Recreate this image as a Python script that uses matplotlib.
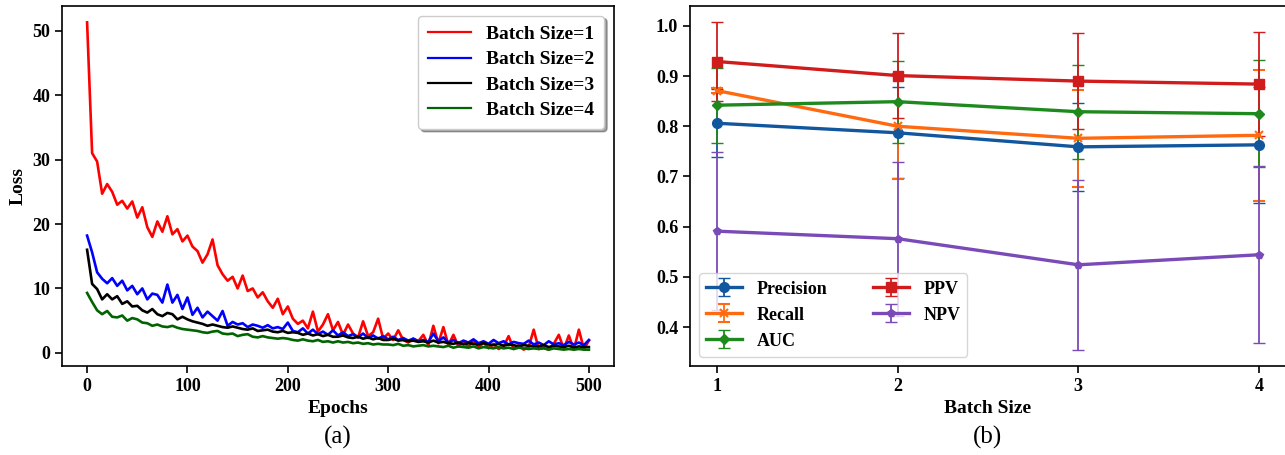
import matplotlib
matplotlib.use("Agg")
import matplotlib.pyplot as plt
import numpy as np

plt.rcParams['font.family'] = ['Liberation Serif', 'DejaVu Serif']
plt.rcParams['font.weight'] = 'bold'
plt.rcParams['axes.labelweight'] = 'bold'

# ---------------- (a) loss curves ----------------
epochs = list(range(0, 501, 5))

loss_bs1 = [51.3, 31.0, 29.7, 24.7, 26.2, 25.0, 23.0, 23.6, 22.4, 23.5,
            21.0, 22.6, 19.5, 18.0, 20.4, 18.8, 21.2, 18.4, 19.2, 17.3,
            18.2, 16.5, 15.8, 14.0, 15.3, 17.6, 13.6, 12.2, 11.2, 11.8,
            10.0, 12.0, 9.6, 10.0, 8.6, 9.4, 8.0, 7.0, 8.4, 6.0,
            7.2, 5.3, 4.5, 5.0, 3.8, 6.4, 3.3, 4.4, 6.0, 3.5,
            4.8, 2.8, 4.4, 3.0, 2.4, 4.9, 2.6, 3.2, 5.3, 2.2,
            3.0, 2.0, 3.5, 2.0, 1.6, 2.2, 1.8, 2.8, 1.2, 4.2,
            1.5, 4.0, 1.2, 2.8, 1.0, 1.8, 0.9, 2.0, 0.8, 1.6,
            0.7, 1.4, 0.6, 1.0, 2.6, 0.6, 1.2, 0.5, 0.9, 3.6,
            0.6, 0.8, 0.5, 1.4, 2.8, 0.6, 2.7, 0.5, 3.6, 0.6,
            1.9]

loss_bs2 = [18.2, 15.6, 12.5, 11.5, 10.8, 11.6, 10.4, 11.2, 9.7, 10.4,
            9.1, 10.0, 8.3, 9.2, 9.0, 7.8, 10.6, 7.8, 9.0, 6.8,
            8.6, 5.9, 7.0, 5.5, 6.4, 5.7, 5.0, 6.5, 4.2, 4.8,
            4.4, 4.6, 4.0, 4.4, 4.2, 3.9, 4.3, 3.8, 4.0, 3.7,
            4.7, 3.4, 3.2, 3.8, 3.0, 3.6, 2.9, 3.3, 2.8, 3.5,
            2.7, 3.2, 2.6, 2.9, 2.4, 3.0, 2.3, 2.7, 2.2, 2.6,
            2.1, 2.5, 2.0, 2.3, 1.9, 2.2, 1.8, 2.0, 1.7, 3.0,
            1.8, 2.4, 1.6, 2.0, 1.5, 1.9, 1.6, 2.1, 1.5, 1.8,
            1.4, 2.0, 1.5, 1.8, 1.3, 1.7, 1.5, 1.4, 1.9, 1.3,
            1.6, 1.2, 1.8, 1.3, 1.5, 1.2, 1.7, 1.3, 1.6, 1.2,
            2.0]

loss_bs3 = [16.0, 10.7, 9.9, 8.3, 9.1, 8.3, 8.8, 7.6, 8.0, 7.2,
            7.3, 6.6, 6.25, 6.8, 6.0, 5.7, 6.2, 6.0, 5.2, 5.6,
            5.2, 4.9, 4.7, 4.5, 4.2, 4.4, 4.2, 4.0, 3.9, 4.1,
            3.9, 3.7, 3.6, 3.8, 3.4, 3.5, 3.6, 3.3, 3.2, 3.4,
            3.1, 3.2, 3.1, 2.8, 3.0, 2.7, 2.9, 2.6, 2.8, 2.5,
            2.5, 2.7, 2.4, 2.3, 2.5, 2.2, 2.4, 2.1, 2.3, 2.0,
            2.0, 2.2, 1.9, 2.0, 1.8, 1.9, 1.7, 1.8, 1.6, 1.9,
            1.6, 1.7, 1.5, 1.4, 1.6, 1.3, 1.5, 1.4, 1.3, 1.5,
            1.3, 1.2, 1.4, 1.1, 1.3, 1.2, 1.0, 1.2, 1.1, 1.0,
            1.0, 1.2, 0.9, 1.1, 1.0, 0.9, 1.1, 0.8, 1.0, 0.9,
            0.9]

loss_bs4 = [9.3, 7.9, 6.6, 6.0, 6.5, 5.6, 5.5, 5.8, 5.0, 5.4,
            5.2, 4.7, 4.6, 4.2, 4.4, 4.1, 4.0, 4.2, 3.9, 3.7,
            3.6, 3.5, 3.4, 3.2, 3.1, 3.3, 3.4, 3.0, 2.9, 3.0,
            2.6, 2.8, 2.9, 2.5, 2.4, 2.6, 2.4, 2.3, 2.2, 2.3,
            2.2, 2.0, 1.9, 2.1, 1.9, 1.8, 2.0, 1.7, 1.8, 1.6,
            1.8, 1.6, 1.7, 1.5, 1.6, 1.4, 1.5, 1.3, 1.4, 1.3,
            1.3, 1.2, 1.4, 1.1, 1.2, 1.0, 1.1, 1.2, 1.0, 1.1,
            1.0, 0.9, 1.1, 0.8, 1.0, 0.9, 0.8, 1.0, 0.7, 0.9,
            0.8, 0.7, 0.9, 0.7, 0.8, 0.6, 0.8, 0.7, 0.6, 0.7,
            0.6, 0.7, 0.5, 0.7, 0.6, 0.5, 0.6, 0.5, 0.6, 0.5,
            0.5]

loss_labels = ['Batch Size=1', 'Batch Size=2', 'Batch Size=3', 'Batch Size=4']
loss_colors = ['#ff0000', '#0000ff', '#000000', '#006400']

# ---------------- (b) metrics vs batch size ----------------
batch_sizes = [1, 2, 3, 4]
metric_names = ['Precision', 'Recall', 'AUC', 'PPV', 'NPV']
precision_mean = [0.806, 0.787, 0.759, 0.763]
precision_err = [0.068, 0.091, 0.088, 0.115]
recall_mean = [0.871, 0.800, 0.776, 0.782]
recall_err = [0.005, 0.105, 0.097, 0.130]
auc_mean = [0.842, 0.849, 0.829, 0.825]
auc_err = [0.075, 0.082, 0.094, 0.107]
ppv_mean = [0.929, 0.901, 0.890, 0.884]
ppv_err = [0.078, 0.085, 0.095, 0.103]
npv_mean = [0.591, 0.576, 0.524, 0.544]
npv_err = [0.157, 0.153, 0.169, 0.176]

metric_colors = ['#12579e', '#ff6a10', '#1e8a1e', '#d01c1c', '#7a4ab8']
metric_markers = ['o', 'x', 'D', 's', 'p']

fig = plt.figure(figsize=(12.85, 4.55), dpi=100)
ax1 = fig.add_axes([62/1285, 1-366/455, (614-62)/1285, 360/455])
ax2 = fig.add_axes([690/1285, 1-366/455, (1286-690)/1285, 360/455])

for vals, lab, col in zip([loss_bs1, loss_bs2, loss_bs3, loss_bs4], loss_labels, loss_colors):
    ax1.plot(epochs, vals, color=col, lw=1.9, label=lab)

ax1.set_xlabel('Epochs', fontsize=14, fontweight='bold')
ax1.set_ylabel('Loss', fontsize=14, fontweight='bold')
ax1.set_xticks([0, 100, 200, 300, 400, 500])
ax1.set_yticks([0, 10, 20, 30, 40, 50])
leg1 = ax1.legend(loc='upper right', shadow=True, fancybox=True,
                  handlelength=2.2, labelspacing=0.4, borderpad=0.5,
                  prop={'weight': 'bold', 'size': 14})
for ln in leg1.get_lines():
    ln.set_linewidth(1.6)

means = [precision_mean, recall_mean, auc_mean, ppv_mean, npv_mean]
errs = [precision_err, recall_err, auc_err, ppv_err, npv_err]
for m, e, name, col, mk in zip(means, errs, metric_names, metric_colors, metric_markers):
    ms = 7 if mk in ('o', 's') else 6
    if mk == 'D':
        ms = 5
    ax2.errorbar(batch_sizes, m, yerr=e, color=col, marker=mk, markersize=ms,
                 lw=2.4, elinewidth=1.3, capsize=4, capthick=1.3, label=name,
                 markeredgewidth=1.5 if mk == 'x' else 1.0)

ax2.set_xlabel('Batch Size', fontsize=14, fontweight='bold')
ax2.set_xticks(batch_sizes)
ax2.set_yticks([0.4, 0.5, 0.6, 0.7, 0.8, 0.9, 1.0])
ax2.legend(loc='lower left', ncol=2, prop={'weight': 'bold', 'size': 13},
           handlelength=2.0, columnspacing=2.5)

for ax in (ax1, ax2):
    for sp in ax.spines.values():
        sp.set_linewidth(1.2)
    ax.tick_params(labelsize=13, width=1.2, length=5)
    for t in ax.get_xticklabels() + ax.get_yticklabels():
        t.set_fontweight('bold')

fig.text(338/1285, 1-437/455, '(a)', ha='center', va='center', fontsize=18, fontweight='normal')
fig.text(988/1285, 1-437/455, '(b)', ha='center', va='center', fontsize=18, fontweight='normal')

fig.savefig('out.png', dpi=100)
